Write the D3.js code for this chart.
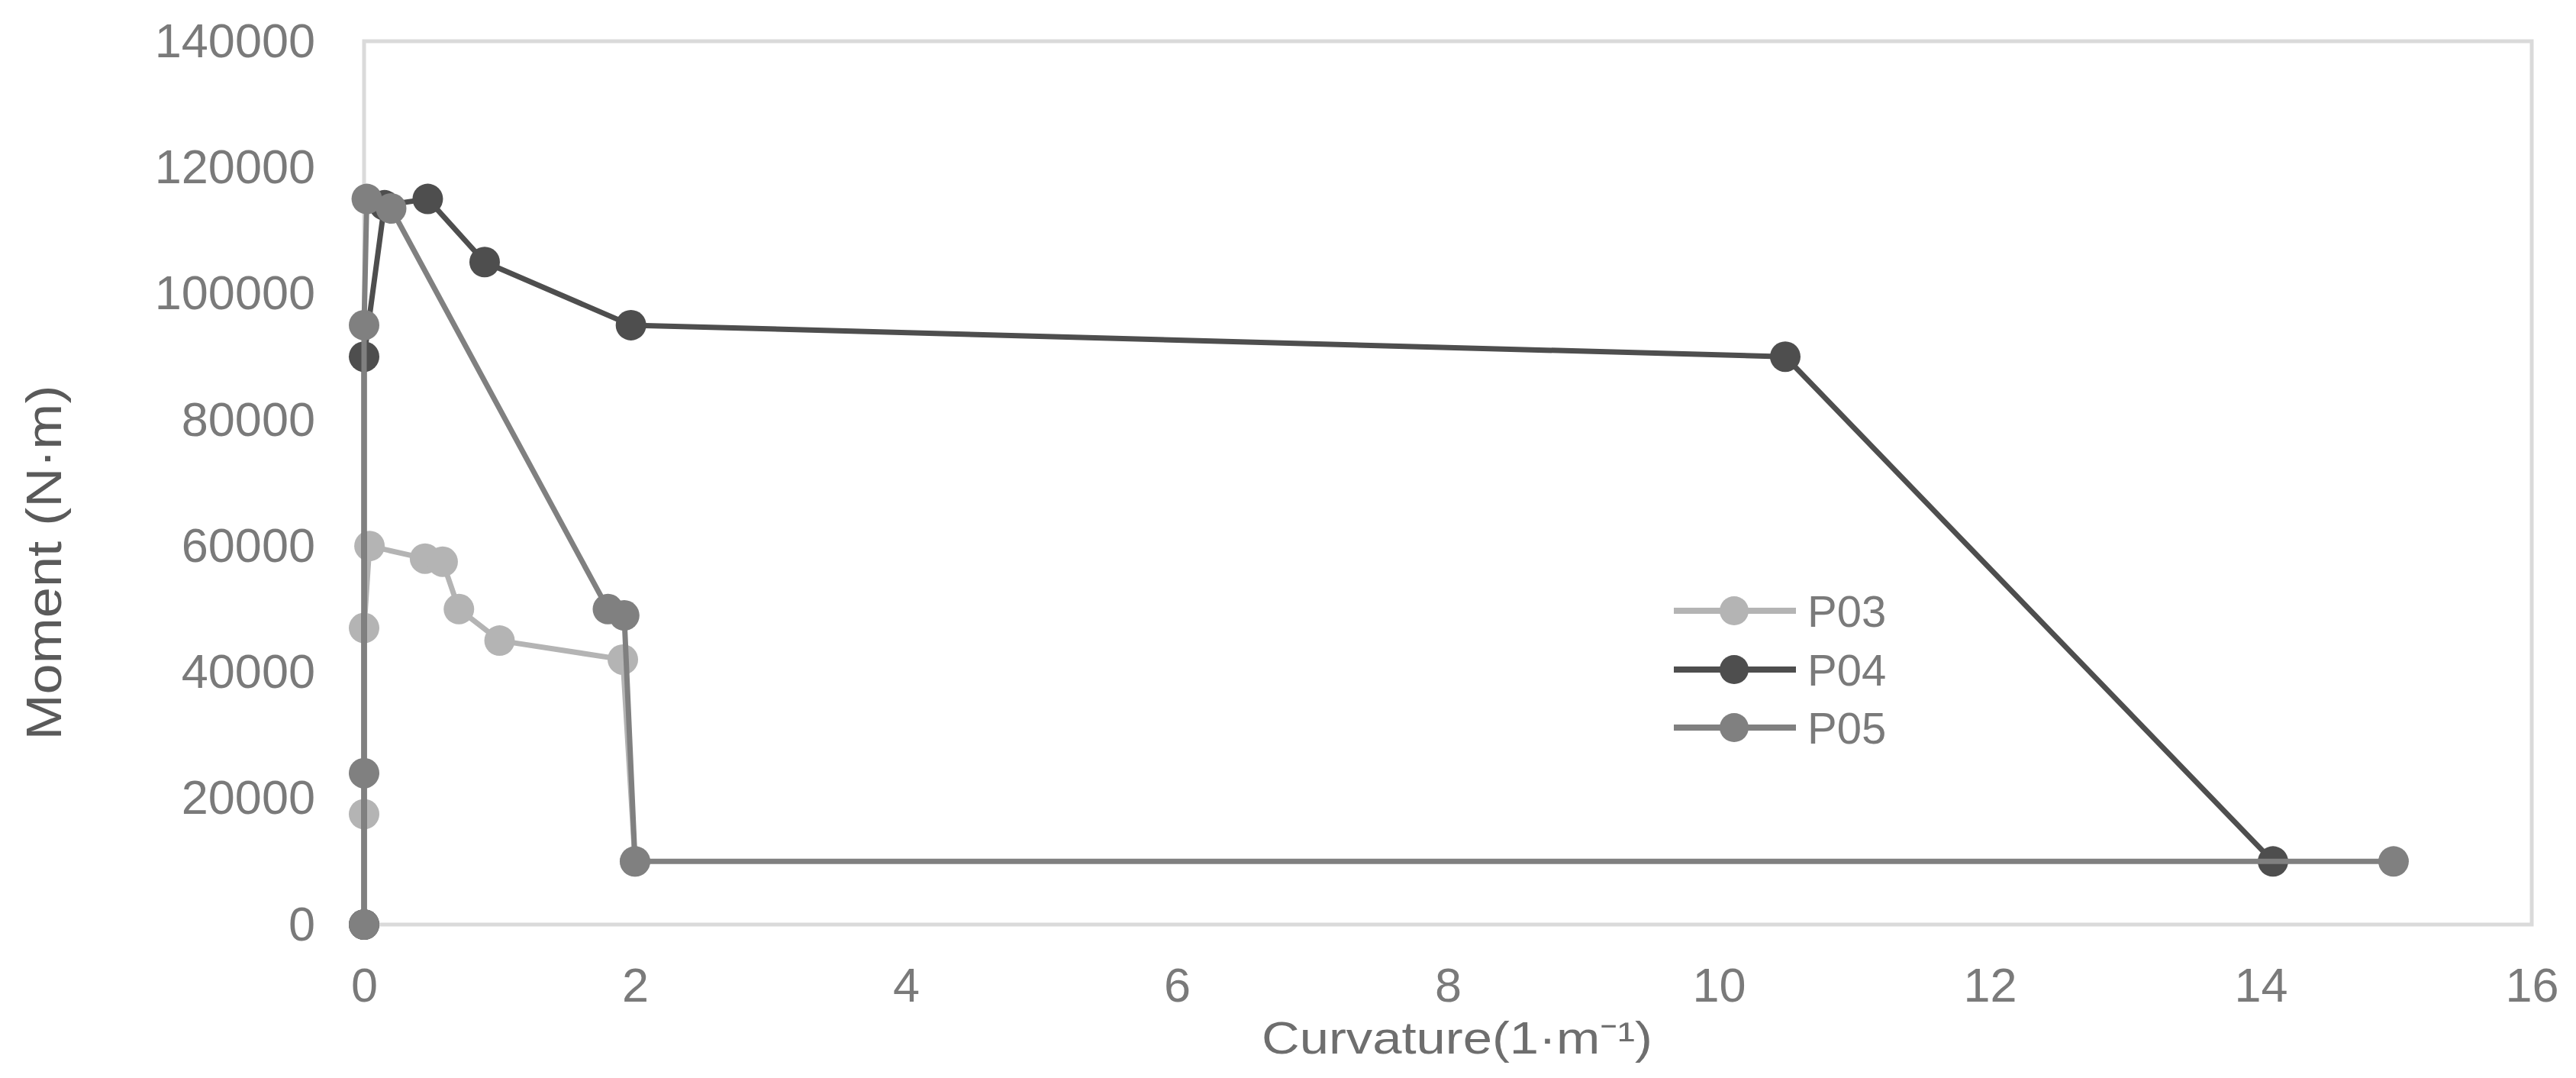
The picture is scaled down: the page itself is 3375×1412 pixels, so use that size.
<!DOCTYPE html>
<html>
<head>
<meta charset="utf-8">
<script src="https://cdn.jsdelivr.net/npm/d3@7"></script>
<style>
  html, body { margin: 0; padding: 0; background: #ffffff; }
  svg { display: block; }
</style>
</head>
<body>
<script>
// ---- data ----
const seriesNames = ["P03", "P04", "P05"];
const p03Curvature = [0, 0, 0, 0.04, 0.45, 0.58, 0.70, 1.00, 1.91, 2.00];
const p03Moment    = [0, 17500, 47000, 60000, 58000, 57500, 50000, 45000, 42000, 10000];
const p04Curvature = [0, 0, 0.15, 0.47, 0.89, 1.97, 10.49, 14.09];
const p04Moment    = [0, 90000, 114000, 115000, 105000, 95000, 90000, 10000];
const p05Curvature = [0, 0, 0, 0.02, 0.20, 1.80, 1.92, 2.00, 14.98];
const p05Moment    = [0, 24000, 95000, 115000, 113500, 50000, 49000, 10000, 10000];
const xTicks = [0, 2, 4, 6, 8, 10, 12, 14, 16];
const yTicks = [0, 20000, 40000, 60000, 80000, 100000, 120000, 140000];
const xTitle = "Curvature(1·m⁻¹)";
const yTitle = "Moment  (N·m)";

// ---- styling ----
const W = 3375, H = 1412;
const colors = { P03: "#b4b4b4", P04: "#4e4e4e", P05: "#808080" };
const font = "'Liberation Sans', Arial, sans-serif";

const svg = d3.select("body").append("svg").attr("width", W).attr("height", H);

const x = d3.scaleLinear().domain([0, 16]).range([477, 3317]);
const y = d3.scaleLinear().domain([0, 140000]).range([1211, 54]);

// plot area frame
svg.append("rect")
  .attr("x", x(0)).attr("y", y(140000))
  .attr("width", x(16) - x(0)).attr("height", y(0) - y(140000))
  .attr("fill", "none").attr("stroke", "#dadada").attr("stroke-width", 5);

// axes
const xAxis = svg.append("g").attr("transform", `translate(0,${y(0)})`)
  .call(d3.axisBottom(x).tickValues(xTicks).tickSize(0).tickPadding(56).tickFormat(d3.format("d")));
const yAxis = svg.append("g").attr("transform", `translate(${x(0)},0)`)
  .call(d3.axisLeft(y).tickValues(yTicks).tickSize(0).tickPadding(64).tickFormat(d3.format("d")));
[xAxis, yAxis].forEach(g => {
  g.select(".domain").remove();
  g.selectAll("text").attr("font-family", font).attr("font-size", 63).attr("fill", "#7a7a7a");
});

// axis titles
svg.append("text")
  .attr("x", 1909).attr("y", 1380)
  .attr("text-anchor", "middle")
  .attr("font-family", font).attr("font-size", 60).attr("fill", "#6e6e6e")
  .attr("textLength", 512).attr("lengthAdjust", "spacingAndGlyphs")
  .text(xTitle);

svg.append("text")
  .attr("transform", "translate(80,737) rotate(-90)")
  .attr("text-anchor", "middle")
  .attr("font-family", font).attr("font-size", 64).attr("fill", "#5a5a5a")
  .attr("textLength", 465).attr("lengthAdjust", "spacingAndGlyphs")
  .text(yTitle);

// series
const series = [
  { name: "P03", xs: p03Curvature, ys: p03Moment },
  { name: "P04", xs: p04Curvature, ys: p04Moment },
  { name: "P05", xs: p05Curvature, ys: p05Moment }
];

const line = d3.line().x(d => x(d[0])).y(d => y(d[1]));

series.forEach(s => {
  const pts = s.xs.map((v, i) => [v, s.ys[i]]);
  const g = svg.append("g");
  g.append("path")
    .attr("d", line(pts))
    .attr("fill", "none")
    .attr("stroke", colors[s.name])
    .attr("stroke-width", 7)
    .attr("stroke-linejoin", "round");
  g.selectAll("circle").data(pts).enter().append("circle")
    .attr("cx", d => x(d[0])).attr("cy", d => y(d[1]))
    .attr("r", 20)
    .attr("fill", colors[s.name]);
});

// legend
const legend = svg.append("g");
const legendRows = [800, 877, 953];
seriesNames.forEach((name, i) => {
  const ly = legendRows[i];
  legend.append("line")
    .attr("x1", 2193).attr("x2", 2353).attr("y1", ly).attr("y2", ly)
    .attr("stroke", colors[name]).attr("stroke-width", 8);
  legend.append("circle")
    .attr("cx", 2272).attr("cy", ly).attr("r", 19)
    .attr("fill", colors[name]);
  legend.append("text")
    .attr("x", 2368).attr("y", ly).attr("dy", "0.36em")
    .attr("font-family", font).attr("font-size", 58).attr("fill", "#7a7a7a")
    .text(name);
});
</script>
</body>
</html>
